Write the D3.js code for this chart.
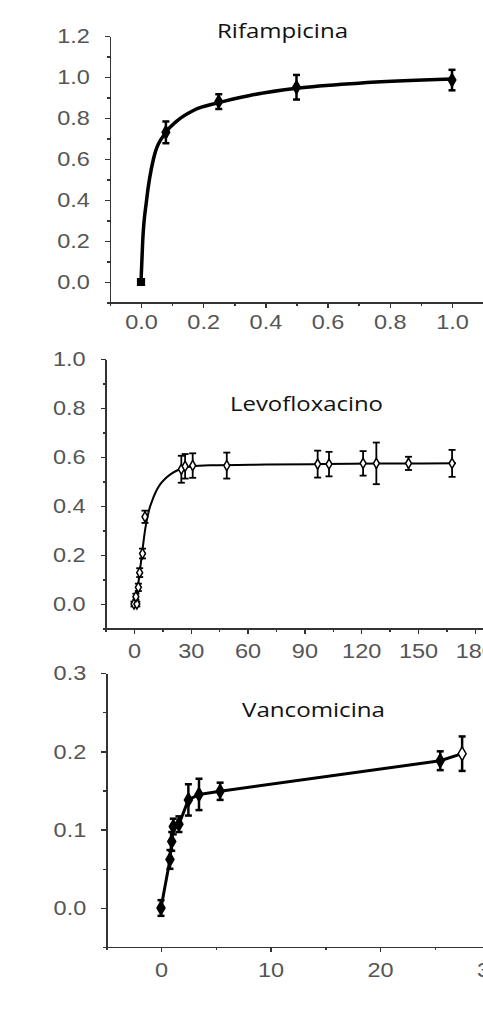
<!DOCTYPE html>
<meta charset="utf-8">
<style>
    body {
        margin: 0;
        background: #fff;
    }

    svg {
        display: block;
    }

    .axis path,
    .axis line {
        fill: none;
        stroke: #333;
        stroke-width: 1.5;
        shape-rendering: crispEdges;
    }

    .axis text {
        font-family: "Liberation Sans", Arial, sans-serif;
        font-size: 21px;
        fill: #555;
    }

    .title {
        font-family: "Open Sans", sans-serif;
        font-size: 20px;
        fill: #111;
    }
</style>
<body>
<script src="https://cdn.jsdelivr.net/npm/d3@7"></script>
<script>

    // --- Rifampicina ---
    const rifX   = [0, 0.08, 0.25, 0.5, 1.0];
    const rifY   = [0, 0.73, 0.88, 0.95, 0.985];
    const rifErr = [0.01, 0.053, 0.036, 0.06, 0.05];
    // fitted curve
    const rifFitX = [0, 0.0055, 0.018, 0.04, 0.08, 0.115, 0.17, 0.25, 0.35, 0.5, 0.7, 1.0];
    const rifFitY = [0, 0.2, 0.4, 0.6, 0.73, 0.785, 0.838, 0.875, 0.91, 0.945, 0.97, 0.99];
    const rifXTicks = [0, 0.2, 0.4, 0.6, 0.8, 1.0];
    const rifYTicks = [0, 0.2, 0.4, 0.6, 0.8, 1.0, 1.2];

    // --- Levofloxacino ---
    const levX   = [0, 1.5, 1, 2.3, 3, 4.5, 5.8, 25, 27, 31, 49, 97, 103, 121, 128, 145, 168];
    const levY   = [0, 0, 0.03, 0.068, 0.128, 0.206, 0.356, 0.55, 0.562, 0.565, 0.565, 0.571, 0.571, 0.574, 0.574, 0.574, 0.574];
    const levErr = [0.01, 0.01, 0.012, 0.015, 0.018, 0.02, 0.025, 0.055, 0.05, 0.05, 0.053, 0.055, 0.05, 0.05, 0.085, 0.027, 0.055];
    const levFitX = [0, 2, 4, 6, 8, 10, 12, 14, 17, 20, 23, 26, 30, 40, 70, 100, 130, 170];
    const levFitY = [0, 0.07, 0.19, 0.31, 0.385, 0.43, 0.465, 0.49, 0.515, 0.533, 0.546, 0.555, 0.561, 0.566, 0.569, 0.571, 0.573, 0.574];
    const levXTicks = [0, 30, 60, 90, 120, 150, 180];
    const levYTicks = [0, 0.2, 0.4, 0.6, 0.8, 1.0];

    // --- Vancomicina ---
    const vanX   = [0, 0.82, 0.98, 1.12, 1.64, 2.5, 3.47, 5.4, 25.5, 27.5];
    const vanY   = [0, 0.062, 0.085, 0.104, 0.107, 0.138, 0.145, 0.149, 0.188, 0.197];
    const vanErr = [0.01, 0.012, 0.012, 0.01, 0.01, 0.02, 0.02, 0.011, 0.012, 0.022];
    const vanXTicks = [0, 10, 20, 30];
    const vanYTicks = [0, 0.1, 0.2, 0.3];

    const W = 483, H = 1012;
    const sx = 1.12;   // the figure is a bit stretched sideways

    const svg = d3.select('body')
        .append('svg')
        .attr('width', W)
        .attr('height', H);

    // build a scale from two known pixel anchors, then widen it to [lo, hi]
    function anchored(v0, p0, v1, p1, lo, hi) {
        const s = d3.scaleLinear().domain([v0, v1]).range([p0, p1]);
        return d3.scaleLinear().domain([lo, hi]).range([s(lo), s(hi)]);
    }

    function drawPanel(p) {
        const x = p.x, y = p.y;
        const g = svg.append('g').attr('class', 'panel');
        const fmt = d3.format(p.fmt);

        // x axis: minor then major ticks
        const xAxisY = y.range()[0];
        g.append('g')
            .attr('class', 'axis')
            .attr('transform', 'translate(0,' + xAxisY + ')')
            .call(d3.axisBottom(x).tickValues(p.xMinor).tickSize(3).tickSizeOuter(0).tickFormat(''));
        const xa = g.append('g')
            .attr('class', 'axis')
            .attr('transform', 'translate(0,' + xAxisY + ')')
            .call(d3.axisBottom(x).tickValues(p.xTicks).tickSize(5).tickSizeOuter(0).tickFormat(fmt));
        xa.select('.domain').remove();
        xa.selectAll('text')
            .attr('y', p.xLabelOff)
            .attr('transform', 'scale(' + sx + ',1)');

        // y axis
        const yAxisX = x.range()[0];
        g.append('g')
            .attr('class', 'axis')
            .attr('transform', 'translate(' + yAxisX + ',0)')
            .call(d3.axisLeft(y).tickValues(p.yMinor).tickSize(3).tickSizeOuter(0).tickFormat(''));
        const ya = g.append('g')
            .attr('class', 'axis')
            .attr('transform', 'translate(' + yAxisX + ',0)')
            .call(d3.axisLeft(y).tickValues(p.yTicks).tickSize(5).tickSizeOuter(0).tickFormat(d3.format(p.yfmt)));
        ya.select('.domain').remove();
        ya.selectAll('text')
            .attr('x', -20 / sx)
            .attr('transform', 'scale(' + sx + ',1)');

        // fitted line / connecting line
        const line = d3.line()
            .x(d => x(d[0]))
            .y(d => y(d[1]))
            .curve(p.curve);
        g.append('path')
            .datum(d3.zip(p.lineX, p.lineY))
            .attr('d', line)
            .attr('fill', 'none')
            .attr('stroke', '#000')
            .attr('stroke-width', p.lineW)
            .attr('stroke-linejoin', 'round');

        // error bars
        const pts = p.px.map((v, i) => ({x: v, y: p.py[i], e: p.pe[i], i: i}));
        const eb = g.append('g').selectAll('g')
            .data(pts)
            .enter().append('g');
        eb.append('line')
            .attr('x1', d => x(d.x)).attr('x2', d => x(d.x))
            .attr('y1', d => y(d.y - d.e)).attr('y2', d => y(d.y + d.e))
            .attr('stroke', '#000').attr('stroke-width', p.errW);
        [-1, 1].forEach(sgn => {
            eb.append('line')
                .attr('x1', d => x(d.x) - 3.5).attr('x2', d => x(d.x) + 3.5)
                .attr('y1', d => y(d.y + sgn * d.e)).attr('y2', d => y(d.y + sgn * d.e))
                .attr('stroke', '#000').attr('stroke-width', p.errW);
        });

        // markers
        g.append('g').selectAll('path')
            .data(pts)
            .enter().append('path')
            .attr('transform', d => 'translate(' + x(d.x) + ',' + y(d.y) + ')')
            .attr('d', d => d3.symbol().type(p.shape(d.i)).size(p.size(d.i))())
            .attr('fill', d => p.open(d.i) ? '#fff' : '#000')
            .attr('stroke', '#000')
            .attr('stroke-width', 1.5);

        // title
        g.append('text')
            .attr('class', 'title')
            .attr('x', p.title[1])
            .attr('y', p.title[2])
            .attr('text-anchor', 'middle')
            .attr('textLength', p.title[3])
            .attr('lengthAdjust', 'spacingAndGlyphs')
            .text(p.title[0]);
    }

    const step = (a, b, s) => d3.range(Math.round((b - a) / s) + 1).map(i => +(a + i * s).toFixed(4));

    drawPanel({
        x: anchored(0, 141, 1.0, 452, -0.1, 1.15),
        y: anchored(0, 282, 1.0, 77, -0.1, 1.2),
        fmt: '.1f', yfmt: '.1f',
        xTicks: rifXTicks, xMinor: step(-0.1, 1.1, 0.1),
        yTicks: rifYTicks, yMinor: step(-0.1, 1.2, 0.1),
        xLabelOff: 12,
        lineX: rifFitX, lineY: rifFitY, curve: d3.curveMonotoneX, lineW: 3.5,
        px: rifX, py: rifY, pe: rifErr, errW: 2.5,
        shape: i => i === 0 ? d3.symbolSquare : d3.symbolDiamond,
        size: i => i === 0 ? 45 : 50,
        open: i => false,
        title: ['Rifampicina', 282.5, 38, 131]
    });

    drawPanel({
        x: anchored(0, 134, 150, 418, -15, 190),
        y: anchored(0, 604, 1.0, 359, -0.1, 1.0),
        fmt: 'd', yfmt: '.1f',
        xTicks: levXTicks, xMinor: step(-15, 180, 15),
        yTicks: levYTicks, yMinor: step(-0.1, 1.0, 0.1),
        xLabelOff: 15,
        lineX: levFitX, lineY: levFitY, curve: d3.curveMonotoneX, lineW: 2,
        px: levX, py: levY, pe: levErr, errW: 1.8,
        shape: i => d3.symbolDiamond,
        size: i => 30,
        open: i => true,
        title: ['Levofloxacino', 306.5, 410.5, 153]
    });

    drawPanel({
        x: anchored(0, 161, 20, 380, -5, 32),
        y: anchored(0, 908, 0.3, 673, -0.05, 0.3),
        fmt: 'd', yfmt: '.1f',
        xTicks: vanXTicks, xMinor: step(-5, 30, 5),
        yTicks: vanYTicks, yMinor: step(-0.05, 0.3, 0.05),
        xLabelOff: 15,
        lineX: vanX, lineY: vanY, curve: d3.curveLinear, lineW: 3,
        px: vanX, py: vanY, pe: vanErr, errW: 2.5,
        shape: i => d3.symbolDiamond,
        size: i => 55,
        open: i => i === vanX.length - 1,
        title: ['Vancomicina', 313.5, 717, 143]
    });

</script>
</body>
</html>
